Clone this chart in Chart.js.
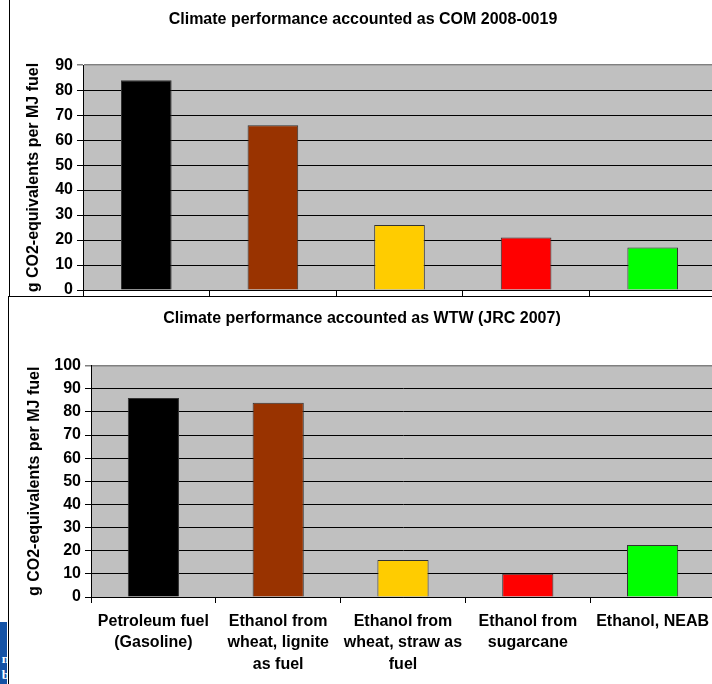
<!DOCTYPE html>
<html lang="en">
<head>
<meta charset="UTF-8">
<title>Climate performance</title>
<script src="https://cdn.jsdelivr.net/npm/chart.js"></script>
<style>
    html, body { margin: 0; padding: 0; background: #fff; overflow: hidden; width: 712px; height: 684px; }
    #top { position: absolute; left: 9px; top: 0; width: 720px; height: 296px; border-left: 1px solid #000; border-bottom: 1px solid #000; }
    #bottom { position: absolute; left: 8px; top: 296px; width: 720px; height: 388px; border-left: 1px solid #000; border-top: 1px solid #000; background: #fff; }
    canvas { position: absolute; }
    #blue { position: absolute; left: 0; top: 622px; width: 7px; height: 62px; background: #1553a5; overflow: hidden; }
    #blue span { position: absolute; right: -2px; color: #fff; font: bold 13px "Liberation Serif", serif; }
</style>
</head>
<body>
<div id="top"><canvas id="canvasCom"></canvas></div>
<div id="bottom"><canvas id="canvasWtw"></canvas></div>
<div id="blue"><span style="top:29px">n</span><span style="top:45px">b</span></div>
<script>
    const categories = [
        ['Petroleum fuel', '(Gasoline)'],
        ['Ethanol from', 'wheat, lignite', 'as fuel'],
        ['Ethanol from', 'wheat, straw as', 'fuel'],
        ['Ethanol from', 'sugarcane'],
        ['Ethanol, NEAB']
    ];
    const valuesCom = [84, 66, 26, 21, 17];
    const valuesWtw = [86, 84, 16, 10, 22.5];
    const barColors = ['#000000', '#993300', '#ffcc00', '#ff0000', '#00ff00'];
    const yTitle = 'g CO2-equivalents per MJ fuel';

    // fundo cinza da area do grafico
    const fundoCinza = {
        id: 'fundoCinza',
        beforeDraw(chart) {
            const { ctx, chartArea } = chart;
            ctx.save();
            ctx.fillStyle = '#c0c0c0';
            ctx.fillRect(chartArea.left, chartArea.top, chartArea.width, chartArea.height);
            ctx.restore();
        }
    };

    function criarGrafico(id, largura, altura, titulo, valores, maxY, cfg) {
        const canvas = document.getElementById(id);
        canvas.style.width = largura + 'px';
        canvas.style.height = altura + 'px';

        return new Chart(canvas, {
            type: 'bar',
            data: {
                labels: categories,
                datasets: [{
                    data: valores,
                    backgroundColor: barColors,
                    borderColor: '#333333',
                    borderWidth: 1,
                    barPercentage: cfg.barra,
                    categoryPercentage: 1
                }]
            },
            plugins: [fundoCinza],
            options: {
                responsive: false,
                animation: false,
                layout: { padding: { left: 0, right: cfg.direita, top: 0, bottom: 0 } },
                plugins: {
                    legend: { display: false },
                    tooltip: { enabled: false },
                    title: {
                        display: true,
                        text: titulo,
                        color: '#000',
                        font: { family: 'Liberation Sans', size: 16, weight: 'bold', lineHeight: 1.2 },
                        padding: { top: cfg.tituloTopo, bottom: cfg.tituloBaixo }
                    }
                },
                scales: {
                    x: {
                        grid: { display: true, drawOnChartArea: false, drawTicks: true, tickLength: 6, color: '#000', offset: true },
                        border: { display: true, color: '#000', width: 1 },
                        ticks: {
                            display: cfg.rotulos,
                            color: '#000',
                            padding: 8,
                            maxRotation: 0,
                            autoSkip: false,
                            font: { family: 'Liberation Sans', size: 16, weight: 'bold', lineHeight: 1.33 }
                        },
                        afterFit(scale) {
                            scale.height = cfg.alturaX;
                            scale.paddingLeft = 0;
                            scale.paddingRight = 0;
                        }
                    },
                    y: {
                        min: 0,
                        max: maxY,
                        grid: {
                            color: (c) => (c.tick && c.tick.value === maxY) ? '#808080' : '#000',
                            lineWidth: (c) => (c.tick && c.tick.value === maxY) ? 1.5 : 1,
                            tickLength: 6
                        },
                        border: { display: true, color: '#000', width: 1 },
                        ticks: {
                            stepSize: 10,
                            color: '#000',
                            padding: 4,
                            font: { family: 'Liberation Sans', size: 16, weight: 'bold' }
                        },
                        title: {
                            display: true,
                            text: yTitle,
                            color: '#000',
                            padding: { top: cfg.yTitulo, bottom: 0 },
                            font: { family: 'Liberation Sans', size: 16, weight: 'bold', lineHeight: 1.2 }
                        },
                        afterFit(scale) {
                            scale.width = cfg.larguraY;
                            scale.paddingTop = 0;
                            scale.paddingBottom = 0;
                        }
                    }
                }
            }
        });
    }

    criarGrafico('canvasCom', 716, 296, 'Climate performance accounted as COM 2008-0019', valuesCom, 90, {
        barra: 0.4, direita: 10, tituloTopo: 10, tituloBaixo: 36, rotulos: false, alturaX: 6, larguraY: 73, yTitulo: 14
    });

    criarGrafico('canvasWtw', 711, 387, 'Climate performance accounted as WTW (JRC 2007)', valuesWtw, 100, {
        barra: 0.41, direita: 5, tituloTopo: 12, tituloBaixo: 37.5, rotulos: true, alturaX: 87, larguraY: 82, yTitulo: 16
    });
</script>
</body>
</html>
